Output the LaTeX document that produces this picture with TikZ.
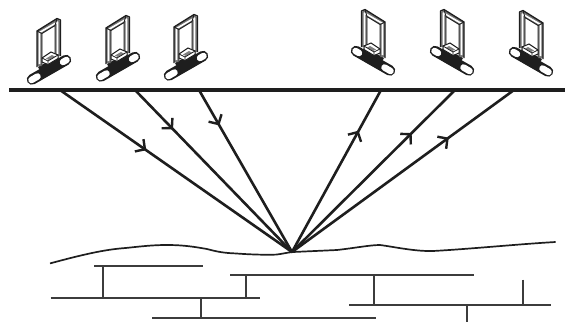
\documentclass[tikz,border=0pt]{standalone}
\usetikzlibrary{decorations.markings}
\definecolor{ink}{HTML}{1E1E1E}
\definecolor{bar}{HTML}{3C3C3C}
\tikzset{
  surface/.style={draw=ink,line width=3.8pt},
  ray/.style={draw=ink,line width=2.6pt},
  chevron/.style={postaction={decorate},decoration={markings,
     mark=at position #1 with {\draw[ink,line width=2.4pt,line join=miter] (-7,7.5) -- (0,0) -- (-7,-7.5);}}},
  ground/.style={draw=ink,line width=1.7pt},
  strata/.style={draw=bar,line width=2pt},
  pics/detector/.style={code={
    % base plate with its two holes
    \draw[ink,line width=10.5pt,line cap=round] (32,79.5) -- (66,60);
    \draw[white,line width=6.5pt,line cap=round] (31.5,80) -- (37.5,76.5);
    \draw[white,line width=6.5pt,line cap=round] (63,62) -- (66.5,60);
    \fill[ink] (38,67) -- (58,56) -- (60,63) -- (42,74) -- cycle;
    % frame
    \draw[black!55,line width=5pt,line join=round] (39.5,66) -- (39.5,32) -- (57.5,21.5) -- (57.5,56);
    \draw[white,line width=1.6pt,line join=round] (39.5,64) -- (39.5,32.5) -- (57.5,22) -- (57.5,54);
    \draw[ink,line width=1.3pt,line join=round] (37,67) -- (37,31) -- (57,18.5) -- (60.5,20) -- (60.5,56);
    \draw[ink,line width=.9pt,line join=round] (42,66) -- (42,33.5) -- (55,25.5) -- (55,55);
    \draw[ink,line width=.9pt] (37,31) -- (42,33.5) (57,18.5) -- (55,25.5);
    % carriage at the foot of the frame
    \draw[ink,line width=1pt,fill=white] (42,62) -- (42,58) -- (51,52) -- (58,55) -- (58,58.5) -- (48,64.5) -- cycle;
    \fill[black!50] (46,58.5) -- (52,55) -- (55,56.5) -- (49,60) -- cycle;
    \draw[ink,line width=.8pt] (48,61) -- (48,64.5) (42,58) -- (48,61) -- (58,55);
  }}
}
\begin{document}
\begin{tikzpicture}[x=1pt,y=-1pt]
\useasboundingbox (0,0) rectangle (565,322);
% detectors
\pic at (0,0) {detector};
\pic at (69,-3) {detector};
\pic at (137,-4) {detector};
\pic[xscale=-1] at (422,-9) {detector};
\pic[xscale=-1] at (501,-9) {detector};
\pic[xscale=-1] at (580,-8) {detector};
% surface and rays
\coordinate (sl) at (9,90);
\coordinate (sr) at (565,90);
\coordinate (apex) at (292,252);
\coordinate (t1) at (60,90);
\coordinate (t2) at (135,90);
\coordinate (t3) at (199,90);
\coordinate (t4) at (381,90);
\coordinate (t5) at (455,90);
\coordinate (t6) at (514,90);
\draw[ray,chevron=.366] (t1) -- (apex);
\draw[ray,chevron=.235] (t2) -- (apex);
\draw[ray,chevron=.21] (t3) -- (apex);
\draw[ray,chevron=.74] (apex) -- (t4);
\draw[ray,chevron=.727] (apex) -- (t5);
\draw[ray,chevron=.70] (apex) -- (t6);
\draw[surface] (sl) -- (sr);
% ground line
\draw[ground] (50,263.4) .. controls (85,254) and (105,249.5) .. (125.6,248)
  .. controls (140,246.5) and (152,245) .. (166.5,245)
  .. controls (185,245) and (195,247) .. (207,249)
  .. controls (218,252) and (225,253) .. (235,253.4)
  .. controls (250,254.5) and (265,255) .. (276,254.6)
  .. controls (282,254) and (287,252.5) .. (293,252)
  -- (337,250)
  .. controls (355,248) and (370,245) .. (380,245)
  .. controls (395,247) and (415,251.5) .. (433,251)
  .. controls (470,249) and (520,244) .. (555.6,242);
% strata
\coordinate (a1) at (94,265.5);   \coordinate (a2) at (203,265.5);
\coordinate (b1) at (50.5,298);   \coordinate (b2) at (260,298);
\coordinate (c1) at (230,275);    \coordinate (c2) at (474,275);
\coordinate (d1) at (349,305);    \coordinate (d2) at (551,305);
\coordinate (e1) at (152,318);    \coordinate (e2) at (376,318);
\draw[strata] (a1) -- (a2);
\draw[strata] (b1) -- (b2);
\draw[strata] (c1) -- (c2);
\draw[strata] (d1) -- (d2);
\draw[strata] (e1) -- (e2);
\draw[strata] (103,265.5) -- (103,298);
\draw[strata] (246,275) -- (246,298);
\draw[strata] (374,275) -- (374,305);
\draw[strata] (201,298) -- (201,318);
\draw[strata] (523,279.5) -- (523,305);
\draw[strata] (467,305) -- (467,322);
\end{tikzpicture}
\end{document}
